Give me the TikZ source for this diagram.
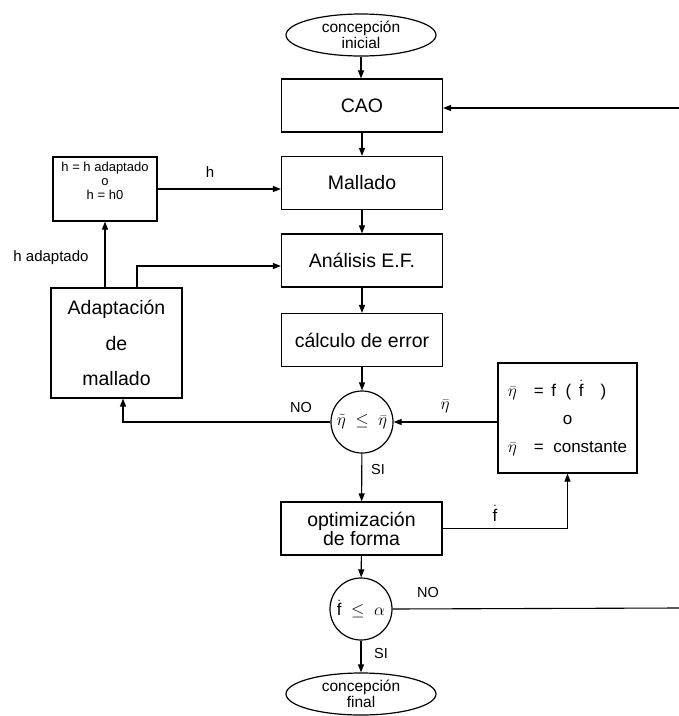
\documentclass[tikz,border=0pt]{standalone}
\usepackage{fontspec}
\setmainfont{Liberation Sans}
\usetikzlibrary{shapes.geometric,arrows.meta}
\begin{document}
\begin{tikzpicture}[x=1pt,y=-1pt,
  every node/.style={inner sep=0pt},
  box/.style={draw, line width=1.2pt, minimum width=161pt, minimum height=53pt, align=center, font=\fontsize{19.5}{19}\selectfont},
  oval/.style={draw, ellipse, line width=1.2pt, minimum width=150pt, minimum height=42pt, align=center, font=\fontsize{15.5}{13.5}\selectfont},
  dec/.style={draw, circle, line width=1.2pt, minimum size=62pt, font=\fontsize{17}{17}\selectfont},
  lab/.style={font=\fontsize{15}{15}\selectfont},
  arr/.style={line width=1.1pt, -{Triangle[length=8pt,width=6pt]}},
  ln/.style={line width=1.1pt}]
\useasboundingbox (0,0) rectangle (679,716);

% main column
\node[oval] (ini) at (361,35) {concepción\\inicial};
\node[box] (cao) at (362,105.5) {CAO};
\node[box] (mall) at (362,183) {Mallado};
\node[box] (anal) at (362,260.5) {Análisis E.F.};
\node[box] (calc) at (362,340) {cálculo de error};
\node[dec] (c1) at (362,422) {$\tilde{\eta}\ \le\ \bar{\eta}$};
\node[box, font=\fontsize{19.5}{18}\selectfont] (opt) at (361.5,528.5) {optimización\\de forma};
\node[dec] (c2) at (361,609) {$\dot{\mathrm{f}}\ \le\ \alpha$};
\node[oval] (fin) at (361,694) {concepción\\final};

% left side
\node[draw, line width=1.2pt, minimum width=104pt, minimum height=64pt] (hbox) at (105,189) {};
\node[anchor=north, align=center, font=\fontsize{13}{14}\selectfont] (htxt) at ([yshift=-5pt]hbox.north) {h = h adaptado\\o\\h = h0};
\node[draw, line width=1.2pt, minimum width=131pt, minimum height=110pt, align=center, font=\fontsize{19.5}{35.5}\selectfont] (adap) at (116.5,343) {Adaptación\\de\\mallado};

% right side
\node[draw, line width=1.2pt, minimum width=139pt, minimum height=110pt, font=\fontsize{17}{30}\selectfont] (rbox) at (567.5,418)
  {\begin{tabular}{@{}l@{}}$\bar{\eta}$\quad=\ \,f\ \ (\ \,$\dot{\mathrm{f}}$\quad)\\[-2pt]\multicolumn{1}{c}{o}\\[-2pt]$\bar{\eta}$\quad=\ \ constante\end{tabular}};

% labels
\node[lab] (lh) at (210,172) {h};
\node[lab] (lhad) at (51,258) {h adaptado};
\node[lab, font=\fontsize{14.5}{15}\selectfont] (lno1) at (301,408) {NO};
\node[lab, font=\fontsize{17}{17}\selectfont] (leta) at (445,406) {$\bar{\eta}$};
\node[lab, font=\fontsize{14.5}{15}\selectfont] (lsi1) at (378,470) {SI};
\node[lab, font=\fontsize{17}{17}\selectfont] (lf) at (495,513) {$\dot{\mathrm{f}}$};
\node[lab, font=\fontsize{14.5}{15}\selectfont] (lno2) at (428,593) {NO};
\node[lab, font=\fontsize{14.5}{15}\selectfont] (lsi2) at (381,653) {SI};

% coordinates
\coordinate (k1) at (137,266);
\coordinate (k2) at (123,422);
\coordinate (e1) at (679,608);
\coordinate (e2) at (679,108);

% connectors main column
\draw[arr] (ini.south) -- (cao.north -| ini.south);
\draw[arr] (cao) -- (mall);
\draw[arr] (mall) -- (anal);
\draw[arr] (anal) -- (calc);
\draw[arr] (calc) -- (c1);
\draw[arr] (c1) -- (opt);
\draw[arr] (opt) -- (c2);
\draw[arr] (c2) -- (fin);

% left loops
\draw[arr] (hbox.east) -- (hbox.east -| mall.west);
\draw[arr] (hbox.south |- adap.north) -- (hbox.south);
\draw[arr] (adap.north -| k1) -- (k1) -- (k1 -| anal.west);
\draw[arr] (c1.west) -- (k2) -- (k2 |- adap.south);

% right loops
\draw[arr] (rbox.west |- c1) -- (c1.east);
\draw[arr] (opt.east) -- (opt.east -| rbox.south) -- (rbox.south);
\draw[ln] (c2.east) -- (e1);
\draw[arr] (e2) -- (e2 -| cao.east);
\end{tikzpicture}
\end{document}
